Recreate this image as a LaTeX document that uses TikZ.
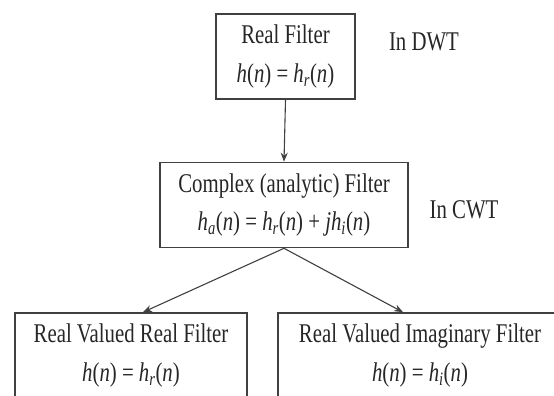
\documentclass[tikz,border=0pt]{standalone}
\usepackage{fontspec}
\setmainfont{Liberation Serif}
\usepackage{graphicx}
\usetikzlibrary{arrows.meta}

\newcommand{\tall}[1]{\scalebox{1}[1.3]{#1}}
\newcommand{\hsub}[1]{\textit{h}\textsubscript{\textit{#1}}(\textit{n})}

\begin{document}
\begin{tikzpicture}[x=1pt,y=-1pt,
  filter/.style={draw=black!75, line width=1.6pt, fill=white, minimum height=85pt,
    align=center, text=black!85, inner sep=0pt, font=\fontsize{20.8}{38.5}\selectfont},
  note/.style={text=black!85, font=\fontsize{20.8}{24}\selectfont},
  link/.style={draw=black!75, line width=1.1pt, -{Stealth[length=9pt,width=7pt]}}]
\useasboundingbox (0,0) rectangle (554,396);
\clip (0,0) rectangle (554,396);

%% boxes
\node[filter, minimum width=139pt] (real) at (285.5,56.5)
  {\tall{Real Filter}\\\tall{\textit{h}(\textit{n}) = \hsub{r}}};
\node[filter, minimum width=248pt] (cplx) at (284,205)
  {\tall{Complex (analytic) Filter}\\\tall{\hsub{a} = \hsub{r} + \textit{j}\hsub{i}}};
\node[filter, minimum width=232pt] (rr) at (131,355.5)
  {\tall{Real Valued Real Filter}\\\tall{\textit{h}(\textit{n}) = \hsub{r}}};
\node[filter, minimum width=284pt] (ri) at (420,355.5)
  {\tall{Real Valued Imaginary Filter}\\\tall{\textit{h}(\textit{n}) = \hsub{i}}};

%% labels
\node[note] (dwt) at (424,42) {\tall{In DWT}};
\node[note] (cwt) at (464,210) {\tall{In CWT}};

%%% arrows
\draw[link] (real.south) -- (cplx.north);
\draw[link] (cplx.south) -- ([xshift=12pt]rr.north);
\draw[link] (cplx.south) -- ([xshift=-17pt]ri.north);

\end{tikzpicture}
\end{document}
